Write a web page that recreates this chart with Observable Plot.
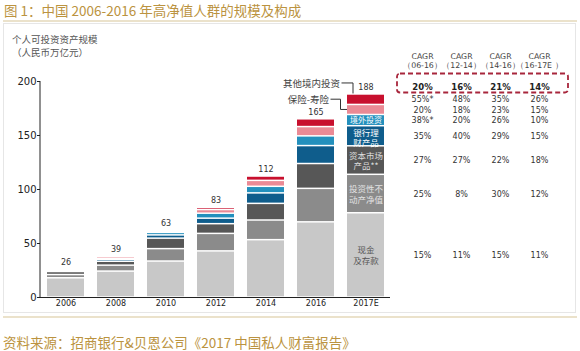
<!DOCTYPE html>
<html><head><meta charset="utf-8">
<script src="https://cdn.jsdelivr.net/npm/d3@7"></script>
<script src="https://cdn.jsdelivr.net/npm/@observablehq/plot@0.6"></script>
<style>
body{margin:0;background:#fff;}
#wrap{position:relative;width:580px;height:351px;overflow:hidden;background:#fff;font-family:"Noto Sans CJK SC",sans-serif;}
.abs{position:absolute;white-space:nowrap;}
#title{left:4px;top:0;height:20px;line-height:20px;font-size:13.5px;color:#bb9340;}
#src{left:3px;top:333px;height:18px;line-height:18px;font-size:13.5px;color:#bb9340;}
.beige{left:3px;width:574px;height:2px;background:#ebe2cb;}
#box{left:3px;top:23px;width:573px;height:290px;border:1px solid #e6e6e6;box-sizing:border-box;}
.ylab{left:12px;font-size:9.5px;color:#555;line-height:12px;}
#c1{left:0;top:24px;}
#c2{left:390px;top:24px;}
</style></head><body>
<div id="wrap">
  <div id="title" class="abs">图 1：中国 2006-2016 年高净值人群的规模及构成</div>
  <div class="abs beige" style="top:20px"></div>
  <div id="box" class="abs"></div>
  <div class="abs ylab" style="top:33px">个人可投资资产规模</div>
  <div class="abs ylab" style="top:45.5px">（人民币万亿元）</div>
  <div id="c1" class="abs"></div>
  <div id="c2" class="abs"></div>
  <div class="abs beige" style="top:316px"></div>
  <div id="src" class="abs">资料来源：招商银行&amp;贝恩公司《2017 中国私人财富报告》</div>
</div>
<script>
// ---------- data ----------
const years = ["2006","2008","2010","2012","2014","2016","2017E"];
const totalLabels = ["26","39","63","83","112","165","188"];
// categories, bottom to top
const categories = ["现金及存款","投资性不动产净值","资本市场产品","银行理财产品","境外投资","保险-寿险","其他境内投资"];
const cash          = [17.8, 24.0, 33.3, 42.7, 53.1, 69.6, 78.0];
const realEstate    = [ 3.0,  5.5, 11.5, 16.2, 18.2, 31.0, 35.6];
const capitalMarket = [ 2.8,  3.6,  9.7,  9.0, 15.4, 23.0, 26.4];
const bankWealth    = [ 0.8,  1.8,  3.0,  5.1,  9.7, 16.6, 18.6];
const overseas      = [ 0.3,  1.0,  2.3,  4.6,  6.1,  9.0, 10.4];
const insurance     = [ 0.8,  1.8,  1.4,  3.4,  5.5,  8.6,  9.3];
const otherDomestic = [ 0.1,  0.5,  0.5,  2.0,  4.0,  7.2,  9.7];
const series = [cash, realEstate, capitalMarket, bankWealth, overseas, insurance, otherDomestic];
const innerLabels = ["现金\n及存款","投资性不\n动产净值","资本市场\n产品**","银行理\n财产品","境外投资"];
const calloutLabels = ["其他境内投资","保险-寿险"];

const cagrCols = ["06-16","12-14","14-16","16-17E"];
const cagrHeaders = ["CAGR\n（06-16）","CAGR\n（12-14）","CAGR\n（14-16）","CAGR\n（16-17E ）"];
const cagrTotal = ["20%","16%","21%","14%"];
// rows in category order (bottom to top)
const cagr0616 = ["15%","25%","27%","35%","38%*","20%","55%*"];
const cagr1214 = ["11%","8%","27%","40%","20%","18%","48%"];
const cagr1416 = ["15%","30%","22%","29%","26%","23%","35%"];
const cagr1617 = ["11%","12%","18%","15%","10%","15%","26%"];
const cagrSeries = [cagr0616, cagr1214, cagr1416, cagr1617];

// ---------- styling ----------
const colors = ["#c8c8c8","#8b8b8b","#575757","#0f5d8c","#2390bd","#ea8a95","#c8102e"];
const innerColors = ["#555555","#e2e2e2","#dddddd","#ffffff","#ffffff"];
const innerDy = [0, 0, 0, 1.5, -0.5];
const numFont = "DejaVu Sans, Verdana, sans-serif";
const cjkFont = "Noto Sans CJK SC, sans-serif";

// ---------- derived ----------
const rows = [];
years.forEach((yr, i) => categories.forEach((c, j) => rows.push({year: yr, cat: c, value: series[j][i]})));
const totals = years.map((_, i) => d3.sum(series, s => s[i]));
const last = years.length - 1;
let cum = 0;
const mids = series.map(s => { const m = cum + s[last] / 2; cum += s[last]; return m; });

const H = 290, MT = 57, MB = 17;

const chart = Plot.plot({
  width: 390, height: H, marginTop: MT, marginBottom: MB, marginLeft: 40, marginRight: 0,
  style: {background: "none", fontFamily: numFont, color: "#222", overflow: "visible"},
  x: {domain: years, paddingInner: 0.26, paddingOuter: 0.13, label: null},
  y: {domain: [0, 200], label: null},
  color: {domain: categories, range: colors},
  marks: [
    Plot.barY(rows, {x: "year", y: "value", fill: "cat", insetTop: 0.75, insetBottom: 0.75}),
    Plot.ruleY([0], {stroke: "#222"}),
    Plot.axisY({ticks: [0, 50, 100, 150, 200], tickSize: 3, tickPadding: 1, fontSize: 10, label: null}),
    Plot.axisX({tickSize: 0, tickPadding: 3, fontSize: 8, label: null}),
    Plot.text(years, {x: d => d, y: (d, i) => totals[i], text: (d, i) => totalLabels[i], dy: -7, fontSize: 8, fill: "#333"}),
    ...innerLabels.map((t, j) => Plot.text([t], {x: () => years[last], y: () => mids[j], text: d => d,
      dy: innerDy[j], fill: innerColors[j], fontSize: j === 4 ? 8 : 8.5, lineHeight: 1.25, fontFamily: cjkFont})),
    Plot.text([calloutLabels[0]], {x: () => years[last], y: () => totals[last], text: d => d, dy: -11, dx: -26,
      textAnchor: "end", fontSize: 9.5, fill: "#444", fontFamily: cjkFont}),
    Plot.text([calloutLabels[1]], {x: () => years[last], y: () => mids[6], text: d => d, dx: -37,
      textAnchor: "end", fontSize: 9.5, fill: "#444", fontFamily: cjkFont})
  ]
});
document.getElementById("c1").appendChild(chart);

// leader lines & y-axis line, from Plot's own scales
function scaleFn(s, band) {
  if (s && typeof s.apply === "function") return v => s.apply(v);
  if (band) return d3.scaleBand().domain(s.domain).range(s.range).paddingInner(0.26).paddingOuter(0.13);
  return d3.scaleLinear().domain(s.domain).range(s.range);
}
const xS = chart.scale("x"), yS = chart.scale("y");
const xf = scaleFn(xS, true), yf = scaleFn(yS, false);
const svg1 = d3.select(chart.tagName.toLowerCase() === "svg" ? chart : chart.querySelector("svg"));
const x0 = xS.range[0];
svg1.append("line").attr("x1", x0).attr("x2", x0).attr("y1", yf(0)).attr("y2", yf(200))
  .attr("stroke", "#222").attr("stroke-width", 1);
const xL = xf(years[last]);
const yTop = yf(totals[last]);
const yOther = yf(mids[6]), yIns = yf(mids[5]);
svg1.append("path").attr("fill", "none").attr("stroke", "#333").attr("stroke-width", 1)
  .attr("d", `M${xL - 5.5},${yTop - 11}H${xL + 6}V${yTop - 0.5}`);
svg1.append("path").attr("fill", "none").attr("stroke", "#333").attr("stroke-width", 1)
  .attr("d", `M${xL - 16.5},${yOther}H${xL - 6.5}V${yIns}H${xL}`);

// ---------- CAGR table ----------
const tableRows = [];
categories.forEach((c, j) => cagrCols.forEach((col, k) => tableRows.push({col, y: mids[j], text: cagrSeries[k][j]})));
const table = Plot.plot({
  width: 186, height: H, marginTop: MT, marginBottom: MB, marginLeft: 32, marginRight: 37,
  style: {background: "none", fontFamily: numFont, color: "#333", overflow: "visible"},
  x: {type: "point", domain: cagrCols, padding: 0, axis: null},
  y: {domain: [0, 200], axis: null},
  marks: [
    Plot.text(cagrCols, {x: d => d, text: (d, i) => cagrHeaders[i], frameAnchor: "top", dy: -21,
      lineAnchor: "middle", fontSize: 7.8, lineHeight: 1.1, fill: "#444"}),
    Plot.text(cagrCols, {x: d => d, text: (d, i) => cagrTotal[i], frameAnchor: "top", dy: 2,
      fontSize: 8.5, fontWeight: "bold", fill: "#222"}),
    Plot.text(tableRows, {x: "col", y: "y", text: "text", fontSize: 8, fill: "#333"})
  ]
});
document.getElementById("c2").appendChild(table);
const tx = table.scale("x");
const pxf = (tx && typeof tx.apply === "function") ? (v => tx.apply(v)) : (v => tx.range[0] + cagrCols.indexOf(v) * (tx.range[1] - tx.range[0]) / (cagrCols.length - 1));
const svg2 = d3.select(table);
const ty = MT + 2;
svg2.append("rect").attr("x", pxf(cagrCols[0]) - 25).attr("y", ty - 9.5)
  .attr("width", pxf(cagrCols[3]) - pxf(cagrCols[0]) + 54).attr("height", 19)
  .attr("rx", 3).attr("fill", "none").attr("stroke", "#a8263c").attr("stroke-width", 1.8)
  .attr("stroke-dasharray", "5,3");
</script>
</body></html>
